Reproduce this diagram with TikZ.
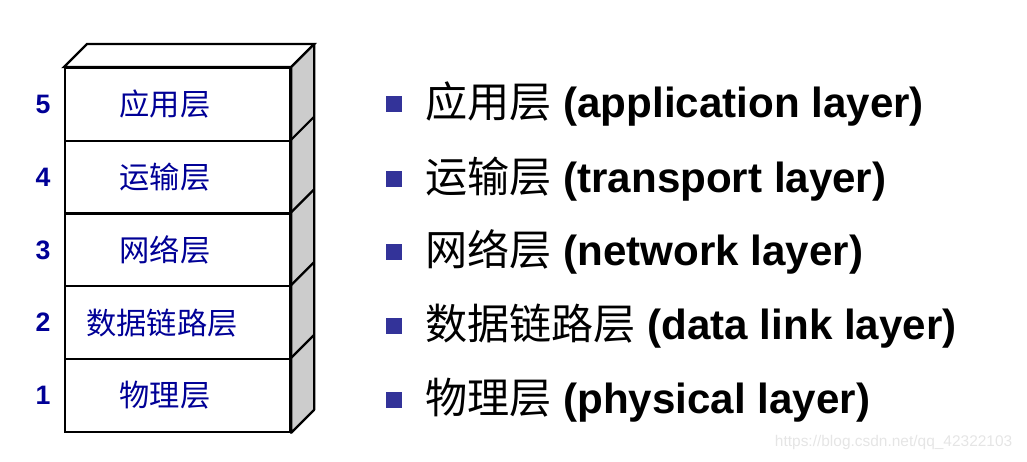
\documentclass[tikz,border=0pt]{standalone}
\usepackage{fontspec}
\setmainfont{Liberation Sans}
\newfontfamily\cjk{Noto Sans CJK SC}
\definecolor{layerblue}{RGB}{0,0,150}
\definecolor{bulletblue}{RGB}{51,51,153}
\definecolor{sidegray}{RGB}{204,204,204}
\begin{document}
\begin{tikzpicture}[x=0.75pt, y=-0.75pt,
  layerbox/.style={draw, line width=1.7pt, minimum width=168.75pt, minimum height=54.5pt, inner sep=0pt},
  layertxt/.style={font=\fontsize{22.7}{22.7}\selectfont\cjk, text=layerblue},
  num/.style={font=\fontsize{20}{20}\selectfont\bfseries, text=layerblue},
  bullet/.style={fill=bulletblue, minimum size=12.5pt, inner sep=0pt},
  item/.style={anchor=west, font=\fontsize{31.6}{31.6}\selectfont\bfseries, inner sep=0pt}]
\useasboundingbox (0,0) rectangle (1027,461);
% the stack of layers
\node[layerbox] (b5) at (177.5, 104.5) {};
\node[layerbox] (b4) at (177.5, 177.2) {};
\node[layerbox] (b3) at (177.5, 249.9) {};
\node[layerbox] (b2) at (177.5, 322.6) {};
\node[layerbox] (b1) at (177.5, 395.3) {};
\draw[line width=1.7pt, fill=white] (b5.north west) -- ++(23,-23) -- ++(225,0)
  -- ([shift={(23,-23)}]b5.north east) -- (b5.north east) -- cycle;
\draw[line width=1.7pt, fill=sidegray, line join=round] (b5.north east) -- ++(23,-23)
  -- ([shift={(23,-23)}]b1.south east) -- (b1.south east) -- cycle;
\draw[line width=1.7pt] (b4.north east) -- ++(23,-23);
\draw[line width=1.7pt] (b3.north east) -- ++(23,-23);
\draw[line width=1.7pt] (b2.north east) -- ++(23,-23);
\draw[line width=1.7pt] (b1.north east) -- ++(23,-23);
\node[layertxt] (t5) at (165, 104.5) {应用层};
\node[layertxt] (t4) at (165, 177.2) {运输层};
\node[layertxt] (t3) at (165, 249.9) {网络层};
\node[layertxt] (t2) at (162, 322.6) {数据链路层};
\node[layertxt] (t1) at (165, 395.3) {物理层};
\node[num] (n5) at (43, 104.5) {5};
\node[num] (n4) at (43, 177.2) {4};
\node[num] (n3) at (43, 249.9) {3};
\node[num] (n2) at (43, 322.6) {2};
\node[num] (n1) at (43, 395.3) {1};
% the list
\node[bullet] (s5) at (394, 104) {};
\node[bullet] (s4) at (394, 179) {};
\node[bullet] (s3) at (394, 252) {};
\node[bullet] (s2) at (394, 326) {};
\node[bullet] (s1) at (394, 400) {};
\node[item] (i5) at (425, 104) {{\cjk\mdseries 应用层} (application layer)};
\node[item] (i4) at (425, 179) {{\cjk\mdseries 运输层} (transport layer)};
\node[item] (i3) at (425, 252) {{\cjk\mdseries 网络层} (network layer)};
\node[item] (i2) at (425, 326) {{\cjk\mdseries 数据链路层} (data link layer)};
\node[item] (i1) at (425, 400) {{\cjk\mdseries 物理层} (physical layer)};
\node[anchor=east, font=\fontsize{11.6}{11.6}\selectfont, text=black!10] (wm) at (1017, 442) {https://blog.csdn.net/qq\_42322103};
\end{tikzpicture}
\end{document}
